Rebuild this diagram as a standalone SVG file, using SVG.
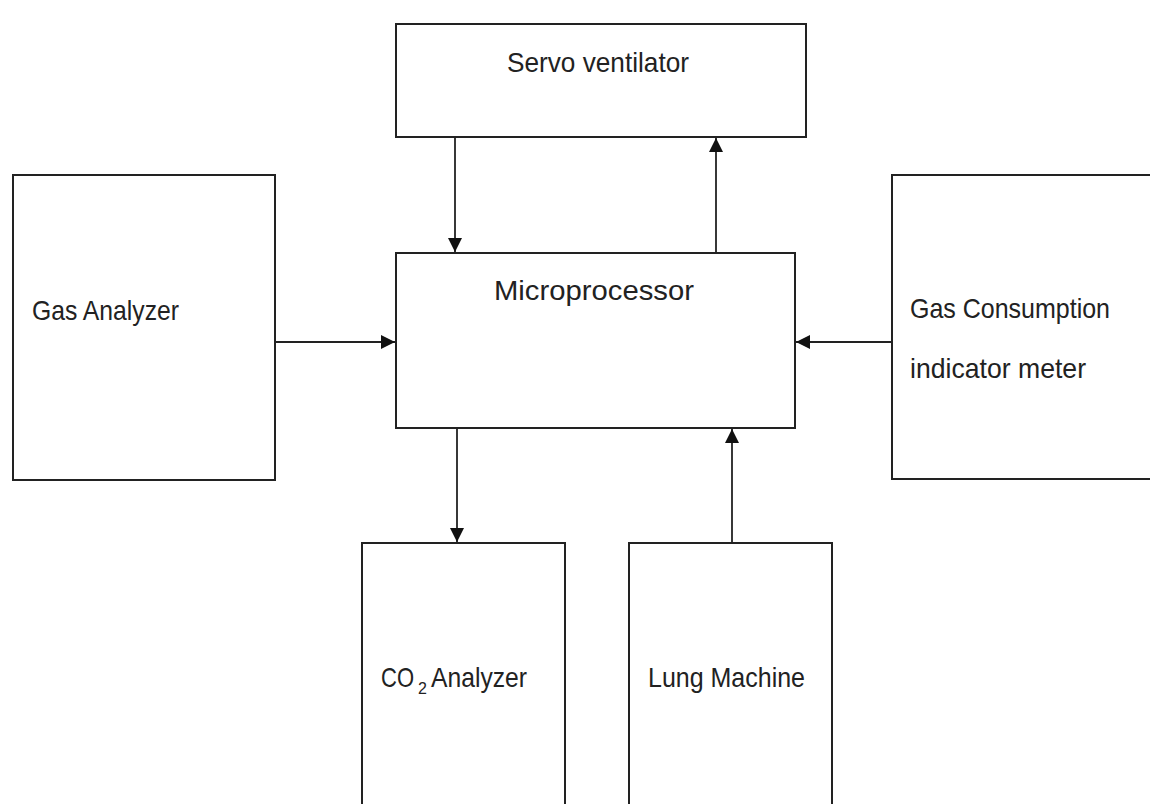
<svg xmlns="http://www.w3.org/2000/svg" width="1150" height="804" viewBox="0 0 1150 804">
<style>
.box{fill:#fff;stroke:#222;stroke-width:2}
.ln{stroke:#222;stroke-width:1.8;fill:none}
.t{font-family:"Liberation Sans",Arial,sans-serif;font-size:28px;fill:#222}
.s{font-family:"Liberation Sans",Arial,sans-serif;font-size:16px;fill:#222}
</style>
<defs>
<marker id="ah" viewBox="0 0 10 10" refX="10" refY="5" markerWidth="16" markerHeight="14" markerUnits="userSpaceOnUse" orient="auto">
<path d="M0,0 L10,5 L0,10 Z" fill="#111"/>
</marker>
</defs>
<rect width="1150" height="804" fill="#fff"/>
<g id="servo"><rect class="box" x="396" y="24" width="410" height="113"/><text class="t" x="507" y="72" textLength="182" lengthAdjust="spacingAndGlyphs">Servo ventilator</text></g>
<g id="microprocessor"><rect class="box" x="396" y="253" width="399" height="175"/><text class="t" x="494" y="300" textLength="200" lengthAdjust="spacingAndGlyphs">Microprocessor</text></g>
<g id="gas-analyzer"><rect class="box" x="13" y="175" width="262" height="305"/><text class="t" x="32" y="320" textLength="147" lengthAdjust="spacingAndGlyphs">Gas Analyzer</text></g>
<g id="gas-consumption"><rect class="box" x="892" y="175" width="270" height="304"/><text class="t" x="910" y="318" textLength="200" lengthAdjust="spacingAndGlyphs">Gas Consumption</text><text class="t" x="910" y="378" textLength="176" lengthAdjust="spacingAndGlyphs">indicator meter</text></g>
<g id="co2-analyzer"><rect class="box" x="362" y="543" width="203" height="280"/><text class="t" x="381" y="687" textLength="33" lengthAdjust="spacingAndGlyphs">CO</text><text class="s" x="418" y="694">2</text><text class="t" x="431" y="687" textLength="96" lengthAdjust="spacingAndGlyphs">Analyzer</text></g>
<g id="lung-machine"><rect class="box" x="629" y="543" width="203" height="280"/><text class="t" x="648" y="687" textLength="157" lengthAdjust="spacingAndGlyphs">Lung Machine</text></g>
<g id="connectors">
<line class="ln" x1="455" y1="137" x2="455" y2="252" marker-end="url(#ah)"/>
<line class="ln" x1="716" y1="253" x2="716" y2="138" marker-end="url(#ah)"/>
<line class="ln" x1="275" y1="342" x2="395" y2="342" marker-end="url(#ah)"/>
<line class="ln" x1="892" y1="342" x2="796" y2="342" marker-end="url(#ah)"/>
<line class="ln" x1="457" y1="428" x2="457" y2="542" marker-end="url(#ah)"/>
<line class="ln" x1="732" y1="543" x2="732" y2="429" marker-end="url(#ah)"/>
</g>
</svg>
